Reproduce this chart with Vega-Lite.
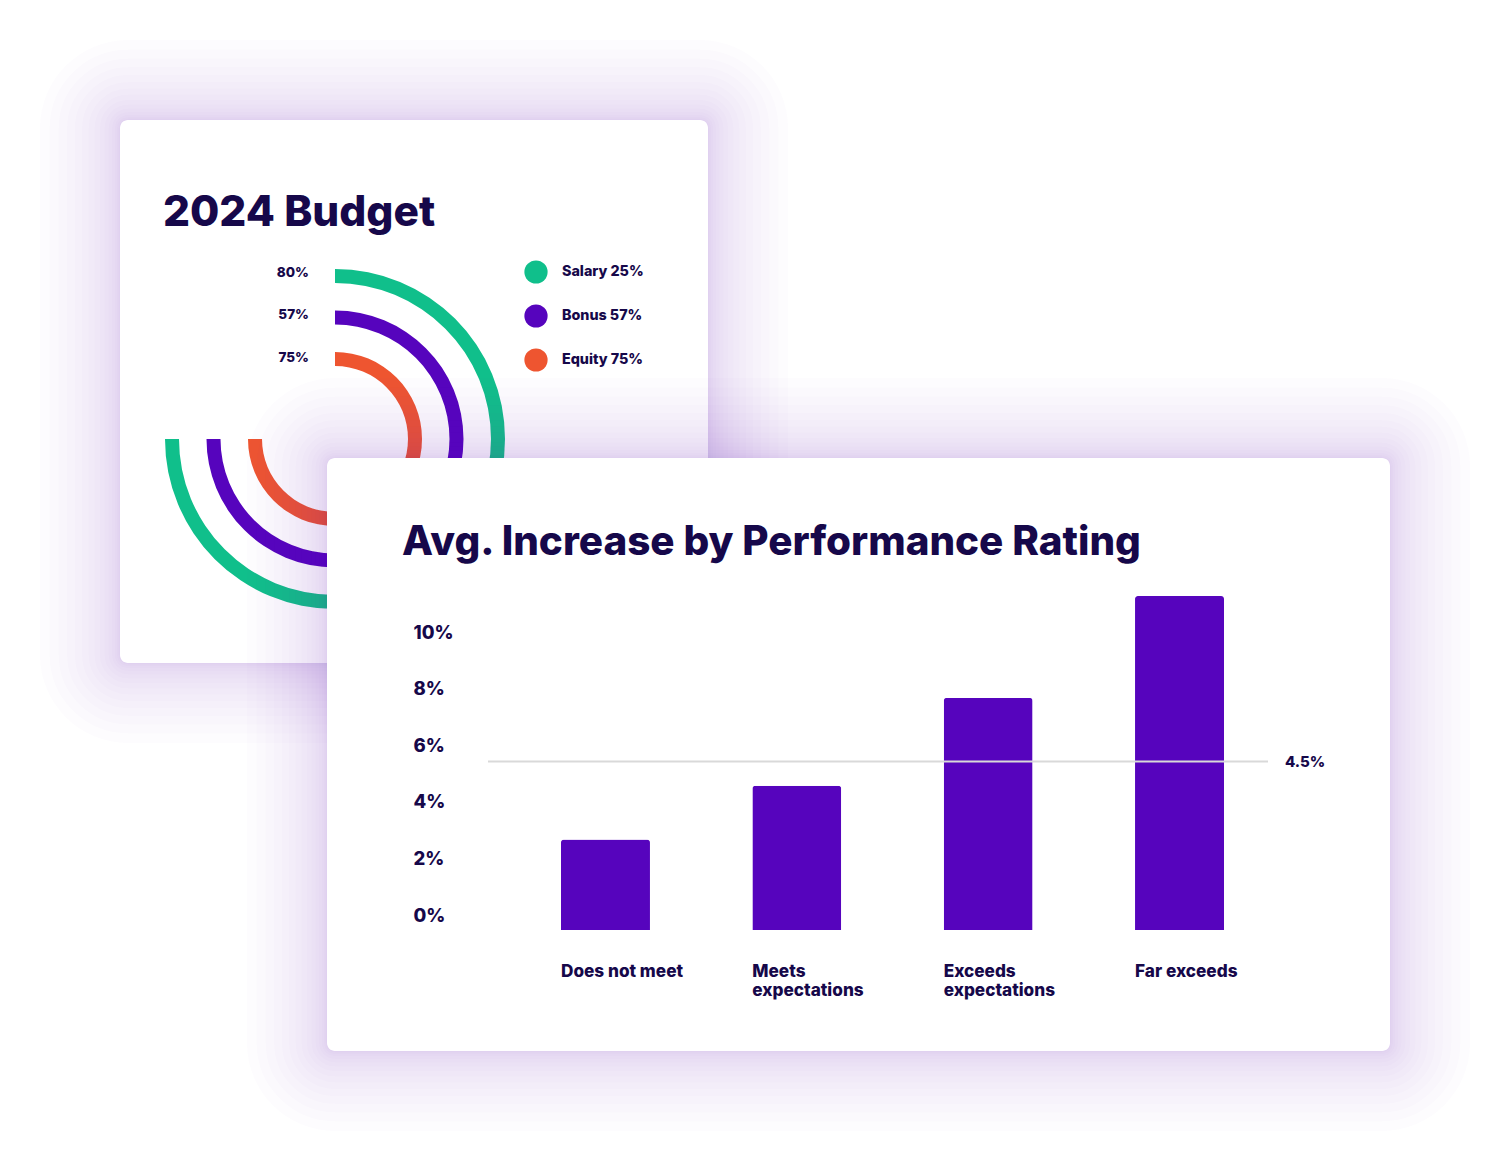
{
  "$schema": "https://vega.github.io/schema/vega-lite/v6.json",
  "width": 1501,
  "height": 1162,
  "autosize": {"type": "none"},
  "padding": 0,
  "background": "white",
  "config": {"view": {"stroke": null}, "font": "Inter"},
  "datasets": {
    "ratings": [
      {"rating": "Does not meet", "increase": 3.2},
      {"rating": "Meets expectations", "increase": 5.1},
      {"rating": "Exceeds expectations", "increase": 8.2},
      {"rating": "Far exceeds", "increase": 11.8}
    ],
    "average": [{"label": "4.5%", "level": 5.95}],
    "budget": [
      {"component": "Salary", "legend": "Salary 25%", "arcLabel": "80%", "ring": 3, "share": 75},
      {"component": "Bonus", "legend": "Bonus 57%", "arcLabel": "57%", "ring": 2, "share": 75},
      {"component": "Equity", "legend": "Equity 75%", "arcLabel": "75%", "ring": 1, "share": 75}
    ],
    "glow": [
      {"step": 1}, {"step": 2}, {"step": 3}, {"step": 4}, {"step": 5}, {"step": 6}, {"step": 7}, {"step": 8},
      {"step": 9}, {"step": 10}, {"step": 11}, {"step": 12}, {"step": 13}, {"step": 14}, {"step": 15}, {"step": 16}
    ]
  },
  "layer": [
    {
      "data": {"name": "glow"},
      "mark": {"type": "rect", "x": 120, "x2": 708, "y": 120, "y2": 663, "cornerRadius": 8, "filled": false, "stroke": "#7c48d0", "strokeOpacity": 0.016},
      "encoding": {
        "strokeWidth": {"field": "step", "type": "quantitative", "scale": {"type": "pow", "exponent": 2, "domain": [0, 16], "range": [0, 160]}, "legend": null}
      }
    },
    {
      "data": {"values": [{}]},
      "mark": {"type": "rect", "x": 120, "x2": 708, "y": 120, "y2": 663, "cornerRadius": 8, "fill": "white"}
    },
    {
      "data": {"values": [{}]},
      "mark": {"type": "text", "text": "2024 Budget", "x": 163, "y": 226, "align": "left", "baseline": "alphabetic", "font": "Inter", "fontSize": 42.4, "fontWeight": 800, "color": "#16084a"}
    },
    {
      "data": {"name": "budget"},
      "layer": [
        {
          "mark": {"type": "arc", "x": 335, "y": 439, "radius2Offset": -14},
          "encoding": {
            "theta": {"field": "share", "type": "quantitative", "scale": {"domain": [0, 100], "range": [0, 6.283185]}},
            "theta2": {"datum": 0},
            "radius": {"field": "ring", "type": "quantitative", "scale": {"type": "linear", "zero": false, "domain": [1, 3], "range": [87, 170]}},
            "radius2": {"field": "ring"},
            "color": {
              "field": "legend",
              "type": "nominal",
              "scale": {"domain": ["Salary 25%", "Bonus 57%", "Equity 75%"], "range": ["#10bf8b", "#5604bd", "#ee5530"]},
              "legend": {
                "orient": "none", "legendX": 524, "legendY": 260, "title": null, "direction": "vertical",
                "symbolType": "circle", "symbolSize": 540, "symbolStrokeWidth": 0, "symbolOpacity": 1,
                "labelFont": "Inter", "labelFontSize": 14.3, "labelFontWeight": 800, "labelColor": "#16084a",
                "labelOffset": 14, "rowPadding": 20, "padding": 0, "zindex": 1
              }
            }
          }
        },
        {
          "mark": {"type": "text", "x": 309, "align": "right", "baseline": "middle", "font": "Inter", "fontSize": 13.5, "fontWeight": 800, "color": "#16084a"},
          "encoding": {
            "y": {"field": "ring", "type": "quantitative", "scale": {"domain": [1, 3], "range": [357.5, 272.5], "zero": false, "nice": false}, "axis": null},
            "text": {"field": "arcLabel"}
          }
        }
      ]
    },
    {
      "data": {"name": "glow"},
      "mark": {"type": "rect", "x": 327, "x2": 1390, "y": 458, "y2": 1051, "cornerRadius": 8, "filled": false, "stroke": "#7c48d0", "strokeOpacity": 0.016},
      "encoding": {
        "strokeWidth": {"field": "step", "type": "quantitative", "scale": {"type": "pow", "exponent": 2, "domain": [0, 16], "range": [0, 160]}, "legend": null}
      }
    },
    {
      "data": {"values": [{}]},
      "mark": {"type": "rect", "x": 327, "x2": 1390, "y": 458, "y2": 1051, "cornerRadius": 8, "fill": "white"}
    },
    {
      "data": {"values": [{}]},
      "mark": {"type": "text", "text": "Avg. Increase by Performance Rating", "x": 402, "y": 555, "align": "left", "baseline": "alphabetic", "font": "Inter", "fontSize": 40.4, "fontWeight": 800, "color": "#16084a"}
    },
    {
      "layer": [
        {
          "data": {"name": "ratings"},
          "mark": {"type": "bar", "color": "#5604bd", "cornerRadiusTopLeft": 3, "cornerRadiusTopRight": 3},
          "encoding": {
            "x": {
              "field": "rating", "type": "nominal", "sort": null,
              "scale": {"type": "band", "domain": ["Does not meet", "Meets expectations", "Exceeds expectations", "Far exceeds"], "range": [561, 1224], "paddingInner": 0.535, "paddingOuter": 0},
              "axis": {
                "orient": "bottom", "offset": -200, "title": null, "domain": false, "ticks": false, "tickSize": 0, "grid": false,
                "labelAngle": 0, "labelAlign": "left", "labelBaseline": "top", "labelOffset": -44.5, "labelPadding": 0,
                "labelFont": "Inter", "labelFontSize": 17.2, "labelFontWeight": 800, "labelColor": "#16084a", "labelLineHeight": 19,
                "labelLimit": 0, "labelOverlap": false, "labelBound": false, "labelFlush": false, "zindex": 1,
                "labelExpr": "indexof(datum.value, 'expectations') > 0 ? split(datum.value, ' ') : datum.value"
              }
            },
            "y": {
              "field": "increase", "type": "quantitative",
              "scale": {"domain": [0, 12], "range": [930, 590.4], "nice": false, "zero": false},
              "axis": {
                "orient": "left", "offset": -413, "values": [0, 2, 4, 6, 8, 10], "labelExpr": "datum.value + '%'",
                "title": null, "domain": false, "ticks": false, "tickSize": 0, "grid": false,
                "labelAlign": "left", "labelBaseline": "middle", "labelOffset": -15, "labelPadding": 0,
                "labelFont": "Inter", "labelFontSize": 18.5, "labelFontWeight": 800, "labelColor": "#16084a",
                "labelOverlap": false, "labelBound": false, "labelFlush": false, "zindex": 1
              }
            }
          }
        },
        {
          "data": {"name": "average"},
          "mark": {"type": "rule", "color": "#d9d9d9", "strokeWidth": 2, "xOffset": -73, "x2Offset": 88.5},
          "encoding": {
            "x": {"datum": "Does not meet", "type": "nominal", "bandPosition": 0},
            "x2": {"datum": "Far exceeds", "bandPosition": 0.5},
            "y": {"field": "level", "type": "quantitative"}
          }
        },
        {
          "data": {"name": "average"},
          "mark": {"type": "text", "align": "left", "baseline": "middle", "dx": 61, "font": "Inter", "fontSize": 15, "fontWeight": 800, "color": "#16084a"},
          "encoding": {
            "x": {"datum": "Far exceeds", "type": "nominal", "bandPosition": 1},
            "y": {"field": "level", "type": "quantitative"},
            "text": {"field": "label"}
          }
        }
      ]
    }
  ],
  "resolve": {
    "scale": {"x": "independent", "y": "independent", "theta": "independent", "radius": "independent", "color": "independent", "strokeWidth": "independent"},
    "axis": {"x": "independent", "y": "independent"},
    "legend": {"color": "independent", "strokeWidth": "independent"}
  }
}
